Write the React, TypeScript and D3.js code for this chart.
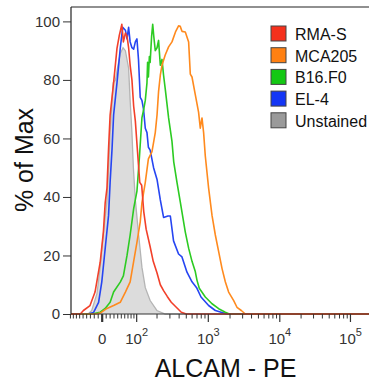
import { useEffect, useRef } from 'react';
import * as d3 from 'd3';

// histogram overlays, [intensity, % of max]
const rmaS: [number, number][] = [
  [-58, 0], [-49, 1.2], [-31, 2.9], [-18, 7.5], [-5, 17.7], [3, 28], [7.5, 38], [12, 43],
  [16, 56.5], [20, 68], [29, 79], [38, 90.8], [44, 95], [51.5, 99], [56, 93], [62, 96],
  [67, 95], [72, 91], [77, 85], [83, 80], [89, 71], [95, 66], [102, 57], [112, 45],
  [120, 44], [129, 35], [140, 29], [160, 23], [177, 18], [200, 14], [222, 10], [246, 8],
  [276, 6], [313, 4], [366, 2.3], [428, 0.6], [500, 0],
];
const mca205: [number, number][] = [
  [-15, 0], [-5, 0.3], [12, 1.9], [29, 2.9], [47, 4], [62, 7.5], [77, 11], [89, 18],
  [101, 24.5], [114, 31.5], [121, 38], [136, 45], [151, 53], [170, 55.5], [189, 62],
  [200, 68], [210, 76], [222, 81.6], [234, 85], [259, 88.5], [288, 91.3], [320, 93],
  [357, 96.4], [393, 98.5], [414, 98.3], [437, 96.6], [485, 96.4], [538, 93], [567, 82],
  [598, 81], [663, 75], [735, 69], [776, 63.5], [819, 67], [862, 62], [909, 54],
  [1010, 43], [1125, 33.7], [1250, 27], [1390, 21.3], [1546, 15.6], [1719, 11],
  [1912, 7.5], [2250, 4.6], [2500, 2.3], [2875, 1.2], [3275, 0],
];
const b16f0: [number, number][] = [
  [-26, 0], [-5, 0.6], [7.5, 1.9], [20, 4], [29, 7.5], [47, 10.9], [56, 13], [67, 20],
  [77, 27], [89, 36], [101, 42], [111, 54], [121, 67], [129, 70], [136, 73], [144, 79],
  [147, 86], [151, 81], [156, 88], [160, 86], [168, 95], [174, 99], [180, 95], [189, 90],
  [200, 91], [210, 93.5], [222, 85], [234, 87], [246, 81.6], [259, 77], [288, 67],
  [320, 59], [338, 52], [374, 45], [414, 38.4], [485, 28], [538, 22.5], [598, 18],
  [663, 14.5], [700, 11.5], [752, 8.8], [909, 5.8], [1125, 3.5], [1390, 1.8],
  [1719, 0.6], [1955, 0],
];
const el4: [number, number][] = [
  [-36, 0], [-22, 0.5], [-9, 4], [-1, 11], [7.5, 22.4], [16, 33.7], [20, 45], [25, 56.6],
  [29, 68], [38, 79], [47, 90.8], [54, 98], [62, 97], [67, 94], [72, 98], [77, 93],
  [83, 91], [89, 90.5], [95, 93], [101, 94], [107, 87], [114, 74], [121, 73], [128, 70],
  [136, 63.5], [144, 62], [151, 57], [160, 56], [179, 50], [200, 46], [222, 39],
  [246, 33], [282, 33.5], [304, 33.5], [336, 25], [393, 20.5], [437, 19.5], [511, 14.3],
  [598, 11], [691, 9], [794, 5.8], [1010, 2.9], [1250, 1.2], [1546, 0.5], [1830, 0],
];
const unstained: [number, number][] = [
  [-36, 0], [-26.5, 1.2], [-13, 7], [-5, 16], [3, 27.5], [12, 39], [16, 50], [20, 62],
  [25, 73], [28, 79], [34, 80], [40, 84.5], [47, 89], [55, 91], [62, 90], [72, 84],
  [77, 73], [83, 62], [88, 50], [95, 39], [107, 27.5], [121, 16], [136, 9], [160, 4.6],
  [199, 1.2], [259, 0],
];

const legendLabels = ['RMA-S', 'MCA205', 'B16.F0', 'EL-4', 'Unstained'];
const legendColors = ['#f5301c', '#ff8012', '#14c814', '#1436f5', '#9a9a9a'];

const yMajor = [0, 20, 40, 60, 80, 100];
const yMinor = d3.range(0, 101, 5).filter((d) => d % 20 !== 0);
const xMajor = [0, 100, 1000, 10000, 100000];
const xMajorExp = ['', '2', '3', '4', '5'];
const xMinor = [
  ...d3.range(-90, 0, 10), ...d3.range(10, 100, 10), ...d3.range(200, 1000, 100),
  ...d3.range(2000, 10000, 1000), ...d3.range(20000, 100000, 10000), 200000,
];

const X_MIN = -88;
const X_MAX = 262144;

// logicle-like display transform (decades from zero)
const K = 30.3;
const P = 1.53;
const fromU = (u: number) => {
  const a = Math.abs(u);
  const v = K * (Math.pow(10, a) - P * P * Math.pow(10, -a / P) + P * P - 1);
  return u < 0 ? -v : v;
};
const toU = (x: number) => {
  let lo = -4, hi = 8;
  for (let i = 0; i < 60; i++) {
    const mid = (lo + hi) / 2;
    if (fromU(mid) < x) lo = mid; else hi = mid;
  }
  return (lo + hi) / 2;
};

export default function App() {
  const svgRef = useRef<SVGSVGElement>(null);
  const W = 369, H = 385;

  useEffect(() => {
    if (!svgRef.current) return;
    const svg = d3.select(svgRef.current);
    svg.selectAll('*').remove();

    const left = 71, top = 7, bottom = 314, right = 380;
    const font = '"Liberation Sans", Arial, Helvetica, sans-serif';

    const xs = d3.scaleLinear().domain([toU(X_MIN), toU(X_MAX)]).range([left, right]);
    const x = (v: number) => xs(toU(v));
    const y = d3.scaleLinear().domain([0, 100]).range([bottom, 21.4]);

    const line = d3.line<[number, number]>()
      .x((d) => x(d[0]))
      .y((d) => y(d[1]));
    const full = (s: [number, number][]) => [[X_MIN, 0], ...s, [X_MAX, 0]] as [number, number][];

    // unstained, filled
    const area = d3.area<[number, number]>()
      .x((d) => x(d[0]))
      .y0(y(0))
      .y1((d) => y(d[1]));
    svg.append('path').datum(unstained).attr('d', area).attr('fill', '#dcdcdc');
    svg.append('path').datum(full(unstained)).attr('d', line)
      .attr('fill', 'none').attr('stroke', '#b4b4b4').attr('stroke-width', 1.3);

    const series = [
      { data: el4, color: '#2645f2' },
      { data: b16f0, color: '#2ccb22' },
      { data: mca205, color: '#ff8a1e' },
      { data: rmaS, color: '#f2402a' },
    ];
    for (const s of series) {
      svg.append('path').datum(full(s.data)).attr('d', line)
        .attr('fill', 'none').attr('stroke', s.color).attr('stroke-width', 1.6)
        .attr('stroke-linejoin', 'round');
    }

    // frame
    svg.append('line').attr('x1', left).attr('x2', right).attr('y1', top).attr('y2', top)
      .attr('stroke', '#222').attr('stroke-width', 1.2);
    svg.append('line').attr('x1', left).attr('x2', left).attr('y1', top).attr('y2', bottom)
      .attr('stroke', '#222').attr('stroke-width', 1.2);

    // y axis
    const yg = svg.append('g').attr('transform', `translate(${left},0)`);
    yg.call(d3.axisLeft(y).tickValues(yMinor).tickSize(4).tickFormat(() => ''));
    yg.call(d3.axisLeft(y).tickValues(yMajor).tickSize(8).tickPadding(3));
    yg.select('.domain').remove();
    yg.selectAll('.tick line').attr('stroke', '#333');
    yg.selectAll('.tick text').attr('fill', '#333').style('font-size', '15px').style('font-family', font);

    // x axis
    const xg = svg.append('g');
    xg.append('line').attr('x1', left).attr('x2', right).attr('y1', bottom).attr('y2', bottom)
      .attr('stroke', '#333').attr('stroke-width', 1);
    xg.selectAll('.minor').data(xMinor).enter().append('line')
      .attr('x1', (d) => x(d)).attr('x2', (d) => x(d))
      .attr('y1', bottom).attr('y2', bottom + 4.5)
      .attr('stroke', '#333').attr('stroke-width', 1);
    xg.selectAll('.major').data(xMajor).enter().append('line')
      .attr('x1', (d) => x(d)).attr('x2', (d) => x(d))
      .attr('y1', bottom).attr('y2', bottom + 8)
      .attr('stroke', '#333').attr('stroke-width', (d) => (d === 0 ? 2.2 : 1.2));
    xMajor.forEach((v, i) => {
      const t = xg.append('text')
        .attr('x', x(v)).attr('y', 344)
        .attr('text-anchor', 'middle')
        .attr('fill', '#333').style('font-size', '15px').style('font-family', font);
      if (v === 0) {
        t.text('0');
      } else {
        t.append('tspan').text('10');
        t.append('tspan').attr('dy', -8).style('font-size', '11px').text(xMajorExp[i]);
      }
    });

    // titles
    svg.append('text')
      .attr('transform', 'translate(33,160) rotate(-90)')
      .attr('text-anchor', 'middle')
      .style('font-size', '25px').style('font-family', font).attr('fill', '#111')
      .text('% of Max');
    svg.append('text')
      .attr('x', (left + right) / 2).attr('y', 377)
      .attr('text-anchor', 'middle')
      .style('font-size', '25px').style('font-family', font).attr('fill', '#111')
      .text('ALCAM - PE');

    // legend
    const lg = svg.append('g').attr('transform', 'translate(271,26)');
    legendLabels.forEach((label, i) => {
      lg.append('rect')
        .attr('x', 0).attr('y', i * 21.7)
        .attr('width', 15).attr('height', 15)
        .attr('fill', legendColors[i])
        .attr('stroke', '#444').attr('stroke-width', 1);
      lg.append('text')
        .attr('x', 24).attr('y', i * 21.7 + 14)
        .style('font-size', '16px').style('font-family', font).attr('fill', '#111')
        .text(label);
    });
  }, []);

  return (
    <svg
      ref={svgRef}
      width={W}
      height={H}
      style={{ position: 'absolute', left: 0, top: 0, background: '#fff' }}
    />
  );
}
